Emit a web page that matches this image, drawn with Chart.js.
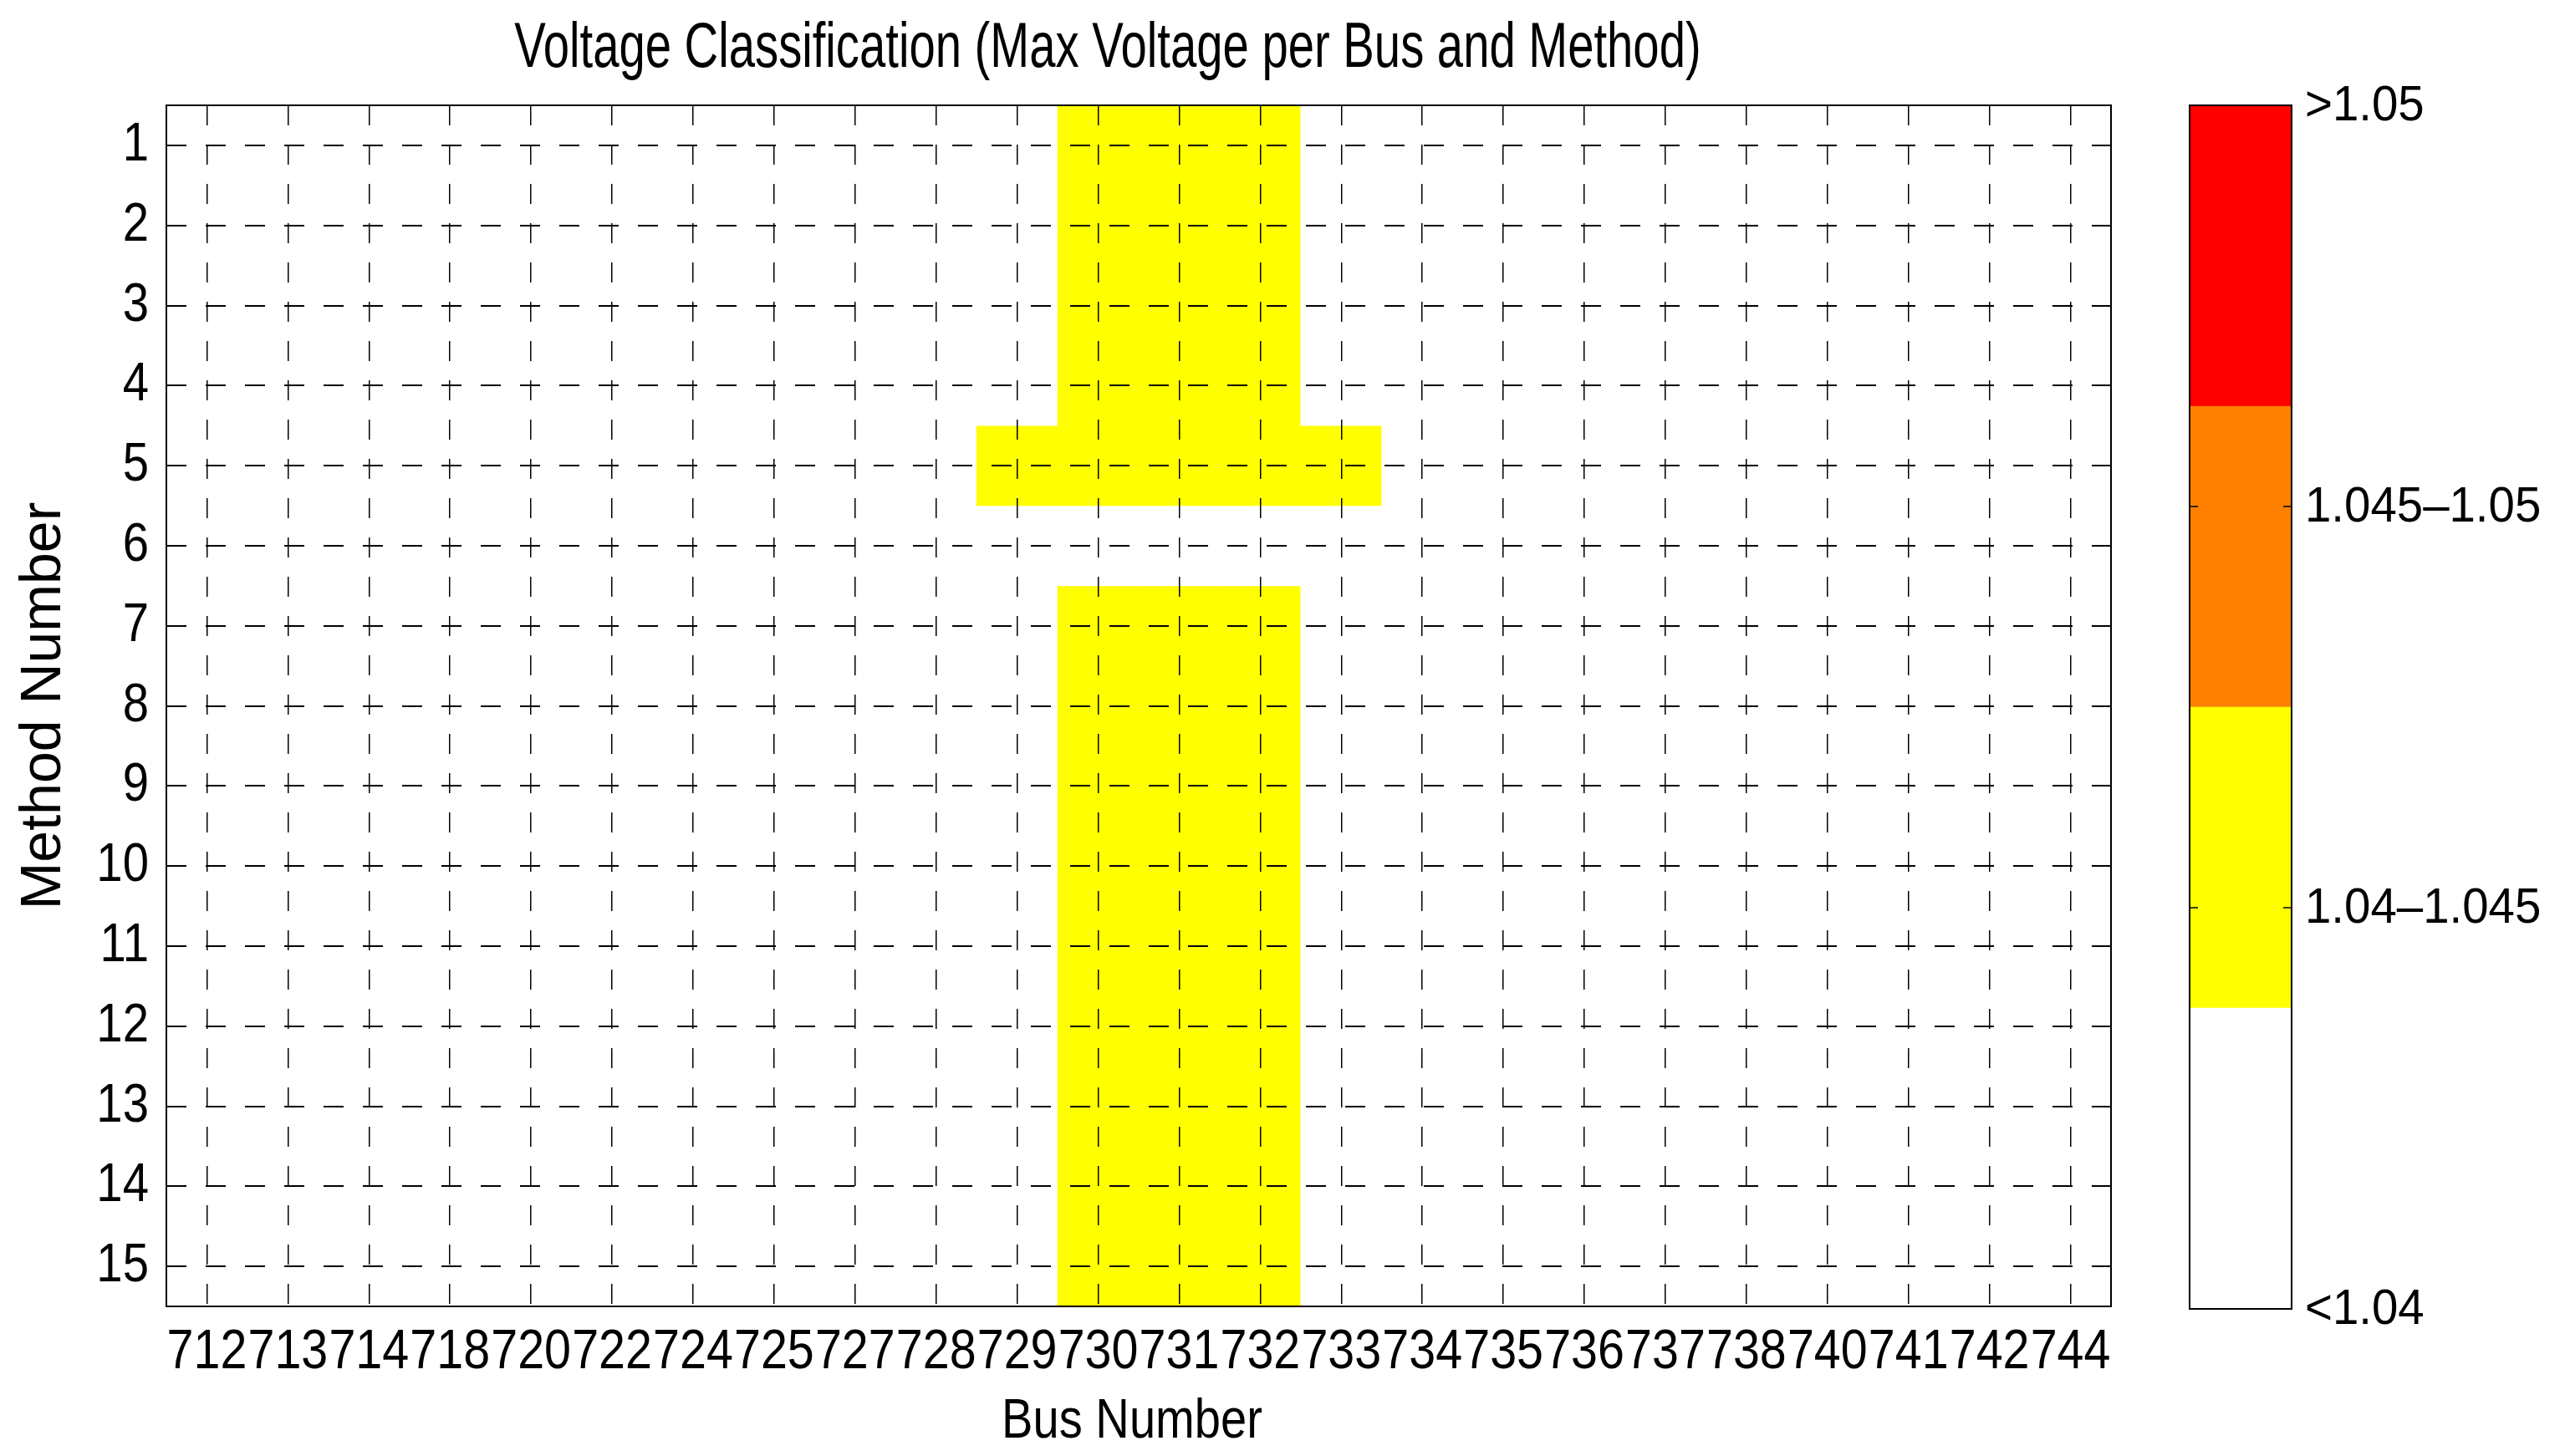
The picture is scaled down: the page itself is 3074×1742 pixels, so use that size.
<!DOCTYPE html>
<html>
<head>
<meta charset="utf-8">
<title>Voltage Classification</title>
<script src="https://cdn.jsdelivr.net/npm/chart.js@4.4.1/dist/chart.umd.min.js"></script>
<style>
  html, body { margin: 0; padding: 0; background: #fff; }
  body { width: 3074px; height: 1742px; position: relative; overflow: hidden; }
  #heatmap { position: absolute; left: 0; top: 0; }
  #colorbar { position: absolute; left: 2560px; top: 0; }
</style>
</head>
<body>
<canvas id="heatmap" width="2560" height="1742"></canvas>
<canvas id="colorbar" width="514" height="1742"></canvas>
<script>
// Bus numbers along the x axis
const busLabels = ['712', '713', '714', '718', '720', '722', '724', '725', '727', '728', '729', '730',
                   '731', '732', '733', '734', '735', '736', '737', '738', '740', '741', '742', '744'];
// Method numbers down the y axis
const methodNumbers = [1, 2, 3, 4, 5, 6, 7, 8, 9, 10, 11, 12, 13, 14, 15];

// Voltage class per method (row) and bus (column): 0 = <1.04, 1 = 1.04-1.045, 2 = 1.045-1.05, 3 = >1.05
const voltageClass = [
    [0,0,0,0,0,0,0,0,0,0,0,1,1,1,0,0,0,0,0,0,0,0,0,0],
    [0,0,0,0,0,0,0,0,0,0,0,1,1,1,0,0,0,0,0,0,0,0,0,0],
    [0,0,0,0,0,0,0,0,0,0,0,1,1,1,0,0,0,0,0,0,0,0,0,0],
    [0,0,0,0,0,0,0,0,0,0,0,1,1,1,0,0,0,0,0,0,0,0,0,0],
    [0,0,0,0,0,0,0,0,0,0,1,1,1,1,1,0,0,0,0,0,0,0,0,0],
    [0,0,0,0,0,0,0,0,0,0,0,0,0,0,0,0,0,0,0,0,0,0,0,0],
    [0,0,0,0,0,0,0,0,0,0,0,1,1,1,0,0,0,0,0,0,0,0,0,0],
    [0,0,0,0,0,0,0,0,0,0,0,1,1,1,0,0,0,0,0,0,0,0,0,0],
    [0,0,0,0,0,0,0,0,0,0,0,1,1,1,0,0,0,0,0,0,0,0,0,0],
    [0,0,0,0,0,0,0,0,0,0,0,1,1,1,0,0,0,0,0,0,0,0,0,0],
    [0,0,0,0,0,0,0,0,0,0,0,1,1,1,0,0,0,0,0,0,0,0,0,0],
    [0,0,0,0,0,0,0,0,0,0,0,1,1,1,0,0,0,0,0,0,0,0,0,0],
    [0,0,0,0,0,0,0,0,0,0,0,1,1,1,0,0,0,0,0,0,0,0,0,0],
    [0,0,0,0,0,0,0,0,0,0,0,1,1,1,0,0,0,0,0,0,0,0,0,0],
    [0,0,0,0,0,0,0,0,0,0,0,1,1,1,0,0,0,0,0,0,0,0,0,0]
];

// Colour bar classes
const classColors = ['#FFFFFF', '#FFFF00', '#FF8000', '#FF0000'];
const classLabels = ['<1.04', '1.04\u20131.045', '1.045\u20131.05', '>1.05'];
const classTicks = [1, 2, 3, 4];

const regular = "'Liberation Sans', Arial, sans-serif";

// The original figure was squeezed sideways, so horizontal text is drawn condensed
function squashText(ctx, text, x, y, size, squash, align) {
    ctx.save();
    ctx.font = `${size}px ${regular}`;
    ctx.fillStyle = '#000';
    ctx.textAlign = align;
    ctx.textBaseline = 'alphabetic';
    ctx.translate(x, y);
    ctx.scale(squash, 1);
    ctx.fillText(text, 0, 0);
    ctx.restore();
}

// Box around the plot area (plus inward ticks for the colour bar)
const framePlugin = {
    id: 'frame',
    afterDraw(chart, args, opts) {
        const { ctx, chartArea: a } = chart;
        ctx.save();
        ctx.strokeStyle = '#000';
        ctx.lineWidth = opts.width || 2;
        ctx.strokeRect(a.left, a.top, a.right - a.left, a.bottom - a.top);
        if (opts.innerTicks) {
            const yScale = chart.scales.y;
            ctx.lineWidth = 1.5;
            opts.innerTicks.forEach(v => {
                const y = yScale.getPixelForValue(v);
                ctx.beginPath();
                ctx.moveTo(a.left, y);
                ctx.lineTo(a.left + 10, y);
                ctx.moveTo(a.right - 10, y);
                ctx.lineTo(a.right, y);
                ctx.stroke();
            });
        }
        ctx.restore();
    }
};

// Title, tick labels and x title of the heatmap
const heatmapTextPlugin = {
    id: 'heatmapText',
    afterDraw(chart, args, opts) {
        const { ctx, scales: { x, y } } = chart;
        squashText(ctx, opts.title, opts.titleX, 80, 76, 0.74, 'center');
        x.ticks.forEach((t, i) => {
            squashText(ctx, x.getLabelForValue(t.value), x.getPixelForTick(i), x.top + 74, 66, 0.87, 'center');
        });
        y.ticks.forEach(t => {
            squashText(ctx, String(t.value), y.right - 21, y.getPixelForValue(t.value) + 18, 64, 0.88, 'right');
        });
        squashText(ctx, opts.xTitle, (x.left + x.right) / 2 - 8, x.top + 157, 66, 0.85, 'center');
    }
};

// Labels beside the colour bar
const colorbarTextPlugin = {
    id: 'colorbarText',
    afterDraw(chart) {
        const { ctx, chartArea: a, scales: { y } } = chart;
        classTicks.forEach((v, i) => {
            squashText(ctx, classLabels[i], a.right + 16, y.getPixelForValue(v) + 18, 60, 0.94, 'left');
        });
    }
};

// One floating-bar dataset per method row; each bar is one cell
const heatmapDatasets = methodNumbers.map((m, r) => ({
    label: 'Method ' + m,
    data: busLabels.map(() => [m - 0.5, m + 0.5]),
    backgroundColor: voltageClass[r].map(c => classColors[c]),
    borderWidth: 0,
    grouped: false,
    barPercentage: 1,
    categoryPercentage: 1
}));

new Chart(document.getElementById('heatmap'), {
    type: 'bar',
    data: { labels: busLabels, datasets: heatmapDatasets },
    plugins: [framePlugin, heatmapTextPlugin],
    options: {
        responsive: false,
        animation: false,
        layout: { padding: { left: 0, right: 35, top: 126, bottom: 0 } },
        plugins: {
            legend: { display: false },
            tooltip: { enabled: false },
            frame: { width: 2 },
            heatmapText: {
                title: 'Voltage Classification (Max Voltage per Bus and Method)',
                titleX: 1325,
                xTitle: 'Bus Number'
            }
        },
        scales: {
            x: {
                type: 'category',
                offset: true,
                grid: { offset: false, color: '#000', lineWidth: 1.5, drawTicks: false, z: 1 },
                border: { display: false, dash: [24, 23] },
                ticks: { display: false, autoSkip: false, maxRotation: 0 },
                afterFit: s => { s.height = 179; }
            },
            y: {
                type: 'linear',
                reverse: true,
                min: 0.5,
                max: 15.5,
                afterBuildTicks: s => { s.ticks = methodNumbers.map(v => ({ value: v })); },
                grid: { color: '#000', lineWidth: 2, drawTicks: false, z: 1 },
                border: { display: false, dash: [24, 23] },
                ticks: { display: false },
                title: {
                    display: true,
                    text: 'Method Number',
                    color: '#000',
                    font: { family: regular, size: 68, lineHeight: 1.2 },
                    padding: { top: 12, bottom: 0 }
                },
                afterFit: s => { s.width = 199; }
            }
        }
    }
});

// Colour bar: stacked bands along a linear scale from the first to the last tick
const cbMin = classTicks[0];
const cbMax = classTicks[classTicks.length - 1];
const band = (cbMax - cbMin) / classColors.length;

const colorbarDatasets = classColors.map((color, i) => ({
    label: classLabels[i],
    data: [[cbMin + i * band, cbMin + (i + 1) * band]],
    backgroundColor: color,
    borderWidth: 0,
    grouped: false,
    barPercentage: 1,
    categoryPercentage: 1
}));

new Chart(document.getElementById('colorbar'), {
    type: 'bar',
    data: { labels: [''], datasets: colorbarDatasets },
    plugins: [framePlugin, colorbarTextPlugin],
    options: {
        responsive: false,
        animation: false,
        layout: { padding: { left: 59, right: 0, top: 126, bottom: 176 } },
        plugins: {
            legend: { display: false },
            tooltip: { enabled: false },
            frame: { width: 2, innerTicks: classTicks.slice(1, -1) }
        },
        scales: {
            x: { type: 'category', display: false, offset: true },
            y: {
                type: 'linear',
                position: 'right',
                min: cbMin,
                max: cbMax,
                afterBuildTicks: s => { s.ticks = classTicks.map(v => ({ value: v })); },
                grid: { display: false },
                border: { display: false },
                ticks: { display: false },
                afterFit: s => { s.width = 333; }
            }
        }
    }
});
</script>
</body>
</html>
